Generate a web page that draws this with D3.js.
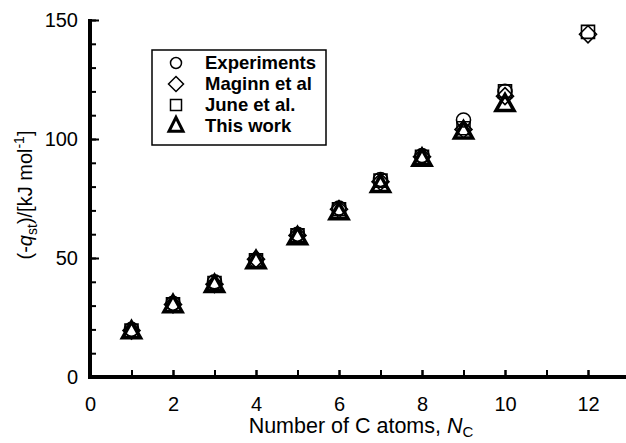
<!DOCTYPE html>
<html>
<head>
<meta charset="utf-8">
<script src="https://cdn.jsdelivr.net/npm/d3@7"></script>
<style>
  body { margin: 0; background: #fff; }
  text { font-family: "Liberation Sans", Arial, sans-serif; fill: #000; }
</style>
</head>
<body>
<div id="chart"></div>
<script>
// data
var carbons = [1, 2, 3, 4, 5, 6, 7, 8, 9, 10, 12];
var experiments = [20, 31, 40, 49, 60, 71, 83, 93, 108, 120, null];
var maginn = [19.5, 30.5, 39, 49.5, 59.5, 70.5, 82, 92.5, 104, 118, 144];
var june = [19.5, 30.5, 39.5, 49, 59.5, 70.5, 82.5, 92.5, 104.5, 120, 145];
var thisWork = [19, 30, 38.5, 48.5, 58.5, 69, 80.5, 91.5, 103, 114.5, null];

var xMajor = [0, 2, 4, 6, 8, 10, 12];
var yMajor = [0, 50, 100, 150];

var width = 626;
var height = 443;

var svg = d3.select("#chart")
  .append("svg")
  .attr("width", width)
  .attr("height", height);

var x = d3.scaleLinear().domain([0, 13]).range([90, 629.5]);
var y = d3.scaleLinear().domain([0, 150]).range([377, 20]);

// minor ticks
svg.append("g")
  .attr("transform", "translate(90,0)")
  .call(d3.axisLeft(y).tickValues(d3.range(0, 151, 10)).tickSize(-6).tickFormat(""))
  .call(g => g.select(".domain").remove());
svg.append("g")
  .attr("transform", "translate(0,377)")
  .call(d3.axisBottom(x).tickValues(d3.range(0, 14, 1)).tickSize(-7).tickFormat(""))
  .call(g => g.select(".domain").remove());

// major ticks + labels
var yAxis = svg.append("g")
  .attr("transform", "translate(90,0)")
  .call(d3.axisLeft(y).tickValues(yMajor).tickSize(-9).tickSizeOuter(0).tickPadding(12));
var xAxis = svg.append("g")
  .attr("transform", "translate(0,377)")
  .call(d3.axisBottom(x).tickValues(xMajor).tickSize(-7).tickSizeOuter(0).tickPadding(20));

svg.selectAll(".tick line").attr("stroke", "#000").attr("stroke-width", 2);
[yAxis, xAxis].forEach(function (a) {
  a.select(".domain").attr("stroke", "#000").attr("stroke-width", 4);
  a.selectAll(".tick text").style("font-size", "20px").style("font-family", "Liberation Sans, Arial, sans-serif");
});
xAxis.select(".domain").attr("d", "M88,0H626");
yAxis.select(".domain").attr("d", "M0,379V19");

// axis titles
var xt = svg.append("text")
  .attr("x", 361).attr("y", 433)
  .attr("text-anchor", "middle")
  .style("font-size", "21.5px");
xt.append("tspan").text("Number of C atoms, ");
xt.append("tspan").style("font-style", "italic").text("N");
xt.append("tspan").attr("dy", 4).style("font-size", "15px").text("C");

var yt = svg.append("text")
  .attr("transform", "translate(32,195) rotate(-90)")
  .attr("text-anchor", "middle")
  .style("font-size", "20px");
yt.append("tspan").text("(-");
yt.append("tspan").style("font-style", "italic").text("q");
yt.append("tspan").attr("dy", 5).style("font-size", "14px").text("st");
yt.append("tspan").attr("dy", -5).text(")/[kJ mol");
yt.append("tspan").attr("dy", -8).style("font-size", "14px").text("-1");
yt.append("tspan").attr("dy", 8).text("]");

// markers
function pts(vals) {
  return carbons.map((c, i) => ({ c: c, v: vals[i] })).filter(d => d.v != null);
}

var diamondPath = function (s) { return `M0,${-s}L${s},0L0,${s}L${-s},0Z`; };
var squarePath = function (s) { return `M${-s},${-s}H${s}V${s}H${-s}Z`; };
var triPath = function (w, h) { return `M0,${-h * 0.62}L${w},${h * 0.38}L${-w},${h * 0.38}Z`; };

var marks = svg.append("g").attr("fill", "none").attr("stroke", "#000");

marks.selectAll(".exp").data(pts(experiments)).enter().append("circle")
  .attr("cx", d => x(d.c)).attr("cy", d => y(d.v)).attr("r", 7)
  .attr("stroke-width", 1.6);
marks.selectAll(".mag").data(pts(maginn)).enter().append("path")
  .attr("transform", d => `translate(${x(d.c)},${y(d.v)})`)
  .attr("d", diamondPath(8.5)).attr("stroke-width", 1.6);
marks.selectAll(".jun").data(pts(june)).enter().append("path")
  .attr("transform", d => `translate(${x(d.c)},${y(d.v)})`)
  .attr("d", squarePath(6.5)).attr("stroke-width", 1.6);
marks.selectAll(".tw").data(pts(thisWork)).enter().append("path")
  .attr("transform", d => `translate(${x(d.c)},${y(d.v)})`)
  .attr("d", triPath(9, 16)).attr("stroke-width", 3.5).attr("stroke-linejoin", "miter");

// legend
var legend = svg.append("g");
legend.append("rect")
  .attr("x", 152).attr("y", 50).attr("width", 174).attr("height", 95)
  .attr("fill", "#fff").attr("stroke", "#000").attr("stroke-width", 1.5);

var legendNames = ["Experiments", "Maginn et al", "June et al.", "This work"];
var rowY = [63, 84, 105, 126];
legendNames.forEach(function (name, i) {
  var cy = rowY[i];
  var sym;
  if (i === 0) sym = legend.append("circle").attr("cx", 176).attr("cy", cy).attr("r", 5.5).attr("stroke-width", 1.5);
  if (i === 1) sym = legend.append("path").attr("transform", `translate(176,${cy})`).attr("d", diamondPath(7.5)).attr("stroke-width", 1.5);
  if (i === 2) sym = legend.append("path").attr("transform", `translate(176,${cy})`).attr("d", squarePath(5.5)).attr("stroke-width", 1.5);
  if (i === 3) sym = legend.append("path").attr("transform", `translate(176,${cy})`).attr("d", triPath(7, 14)).attr("stroke-width", 3);
  sym.attr("fill", "none").attr("stroke", "#000");
  legend.append("text")
    .attr("x", 205).attr("y", cy + 6)
    .style("font-size", "18.5px").style("font-weight", "bold")
    .text(name);
});
</script>
</body>
</html>
